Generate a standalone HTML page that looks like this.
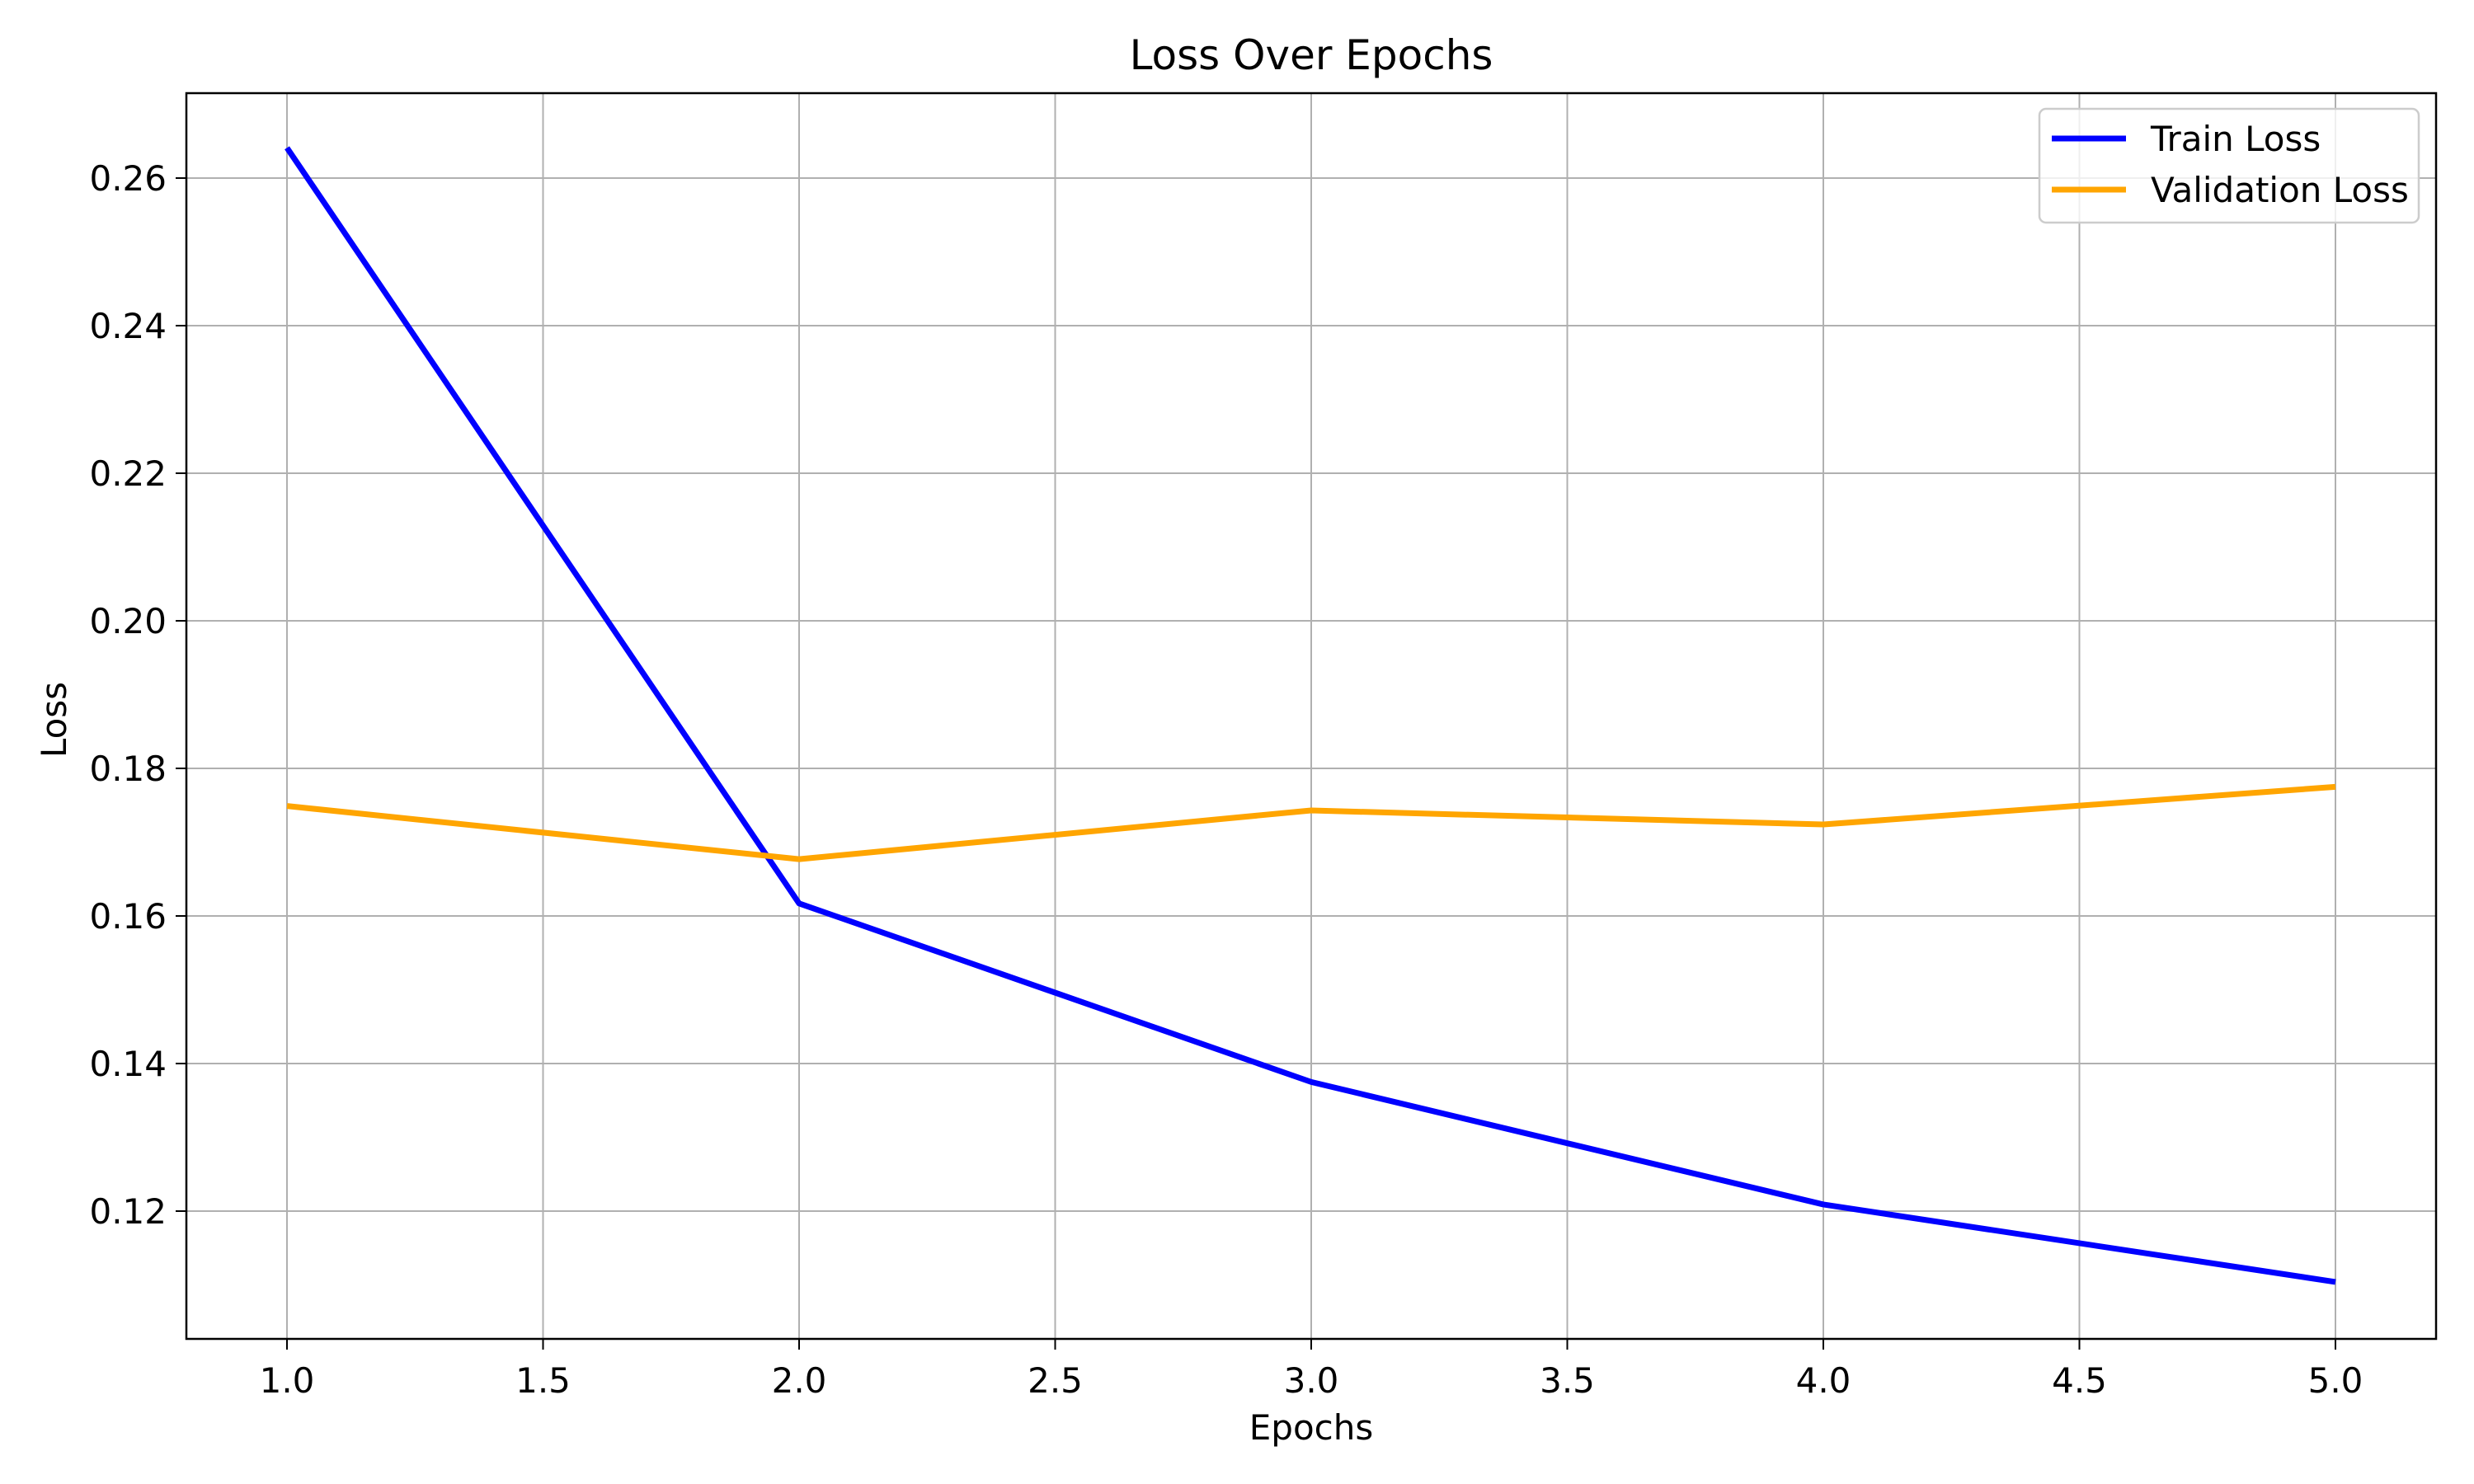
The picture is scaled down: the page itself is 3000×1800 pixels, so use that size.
<!DOCTYPE html>
<html><head><meta charset="utf-8"><style>
html,body{margin:0;padding:0;background:#fff;}
svg{display:block;font-family:"DejaVu Sans","Liberation Sans",sans-serif;}
</style></head><body>
<svg id="chart" width="3000" height="1800" viewBox="0 0 3000 1800" xmlns="http://www.w3.org/2000/svg">
<rect width="3000" height="1800" fill="#fff"/>
<g id="grid"></g>
<g id="ticks"></g>
<g id="series"></g>
<rect x="226" y="113" width="2728" height="1511" fill="none" stroke="#000" stroke-width="2.5"/>
<text x="1590" y="84" font-size="50" text-anchor="middle">Loss Over Epochs</text>
<text x="1590" y="1746" font-size="42" text-anchor="middle">Epochs</text>
<text x="0" y="0" font-size="42" text-anchor="middle" transform="translate(80,873) rotate(-90)">Loss</text>
<g>
<rect x="2473" y="132" width="460" height="138" rx="8" fill="#fff" fill-opacity="0.8" stroke="#ccc" stroke-width="2.5"/>
<g>
<line x1="2488" y1="168" x2="2578" y2="168" stroke="#0000ff" stroke-width="7"/>
<text x="2608" y="183" font-size="42">Train Loss</text></g>
<g>
<line x1="2488" y1="230" x2="2578" y2="230" stroke="#ffa500" stroke-width="7"/>
<text x="2608" y="245" font-size="42">Validation Loss</text></g>
</g>
</svg>
<script>
const epochs = [1, 2, 3, 4, 5];
const trainLoss = [0.2641, 0.1617, 0.1375, 0.1209, 0.1104];
const valLoss = [0.1749, 0.1677, 0.1743, 0.1724, 0.1775];
const xTicks = [1.0, 1.5, 2.0, 2.5, 3.0, 3.5, 4.0, 4.5, 5.0];
const yTicks = [0.12, 0.14, 0.16, 0.18, 0.20, 0.22, 0.24, 0.26];

const NS = "http://www.w3.org/2000/svg";
const L = 226, R = 2954, T = 113, B = 1624;
function xs(v){ return 348 + (v - 1) * (2832 - 348) / 4; }
function ys(v){ return 1469 - (v - 0.12) * (1469 - 216) / 0.14; }
function mk(tag, attrs, parent){
  const e = document.createElementNS(NS, tag);
  for (const k in attrs) e.setAttribute(k, attrs[k]);
  parent.appendChild(e); return e;
}
const grid = document.getElementById('grid');
const ticks = document.getElementById('ticks');
xTicks.forEach(t => {
  const x = xs(t);
  const g = mk('line', {x1:x, x2:x, y1:T, y2:B, stroke:'#b0b0b0', 'stroke-width':2}, grid);
  
  
  const tk = mk('line', {x1:x, x2:x, y1:B, y2:B+13, stroke:'#000', 'stroke-width':2}, ticks);
  
  
  const tx = mk('text', {x:x, y:B+65, 'font-size':42, 'text-anchor':'middle'}, ticks);
  tx.textContent = t.toFixed(1);
  
  
});
yTicks.forEach(t => {
  const y = ys(t);
  const g = mk('line', {x1:L, x2:R, y1:y, y2:y, stroke:'#b0b0b0', 'stroke-width':2}, grid);
  
  
  const tk = mk('line', {x1:L-13, x2:L, y1:y, y2:y, stroke:'#000', 'stroke-width':2}, ticks);
  
  
  const tx = mk('text', {x:L-24, y:y+15, 'font-size':42, 'text-anchor':'end'}, ticks);
  tx.textContent = t.toFixed(2);
  
  
});
const series = document.getElementById('series');
function line(vals, color, name){
  const pts = vals.map((v,i) => xs(epochs[i]) + ',' + ys(v)).join(' ');
  const p = mk('polyline', {points:pts, fill:'none', stroke:color, 'stroke-width':7, 'stroke-linejoin':'round'}, series);
  
  
}
line(trainLoss, '#0000ff', 'train-loss-line');
line(valLoss, '#ffa500', 'validation-loss-line');
</script>
</body></html>
